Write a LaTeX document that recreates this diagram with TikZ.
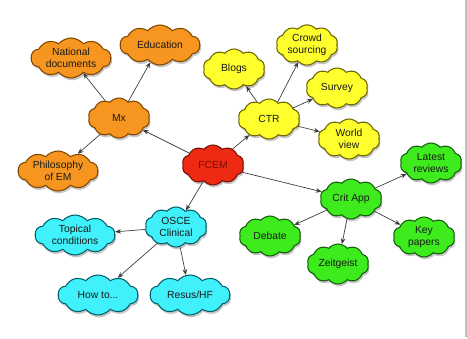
\documentclass[tikz,border=0pt]{standalone}
\usepackage{fontspec}
\setmainfont{Liberation Sans}
\usepackage{tikz}
\usetikzlibrary{shapes.symbols,shadows,arrows.meta}

\definecolor{mxfill}{RGB}{246,150,32}
\definecolor{mxline}{RGB}{130,70,0}
\definecolor{ctrfill}{RGB}{255,255,45}
\definecolor{ctrline}{RGB}{110,100,0}
\definecolor{emfill}{RGB}{238,42,20}
\definecolor{emline}{RGB}{120,15,5}
\definecolor{osfill}{RGB}{64,240,250}
\definecolor{osline}{RGB}{0,95,105}
\definecolor{cafill}{RGB}{62,236,30}
\definecolor{caline}{RGB}{20,95,10}

\begin{document}
\begin{tikzpicture}[x=0.03cm,y=-0.03cm,
  puff/.style={cloud,cloud puffs=10,cloud puff arc=100,cloud ignores aspect,
    draw,line width=.9pt,align=center,inner sep=1pt,
    font=\fontsize{8.8}{10}\selectfont,text=black!90,
    minimum width=2.4cm,minimum height=1.2cm,
    drop shadow={opacity=.45,shadow xshift=1pt,shadow yshift=-2pt}},
  small/.style={minimum width=1.85cm,minimum height=1.2cm},
  mx/.style={puff,fill=mxfill,draw=mxline},
  ctr/.style={puff,fill=ctrfill,draw=ctrline},
  em/.style={puff,fill=emfill,draw=emline,text=emline},
  osce/.style={puff,fill=osfill,draw=osline},
  crit/.style={puff,fill=cafill,draw=caline},
  link/.style={draw=black!75,line width=.6pt,-{Stealth[length=5pt,width=4pt]}}]
  \useasboundingbox (0,0) rectangle (467,339);
  \draw[black!25,line width=1pt] (466,0) -- (466,337);

  % centre
  \node[em,small] (fcem) at (213,165) {FCEM};

  % Mx branch
  \node[mx,small] (mxc) at (119,118) {Mx};
  \node[mx] (natdoc) at (71,58) {National\\documents};
  \node[mx] (educ) at (160,45) {Education};
  \node[mx] (philo) at (58,171) {Philosophy\\of EM};

  % CTR branch
  \node[ctr,small] (ctrc) at (269,119) {CTR};
  \node[ctr,small] (blogs) at (234,69) {Blogs};
  \node[ctr,small] (crowd) at (307,45) {Crowd\\sourcing};
  \node[ctr,small] (survey) at (337,88) {Survey};
  \node[ctr,small] (world) at (349,139) {World\\view};

  % Crit App branch
  \node[crit,small] (critc) at (351,199) {Crit App};
  \node[crit,small] (latest) at (431,163) {Latest\\reviews};
  \node[crit,small] (debate) at (270,236) {Debate};
  \node[crit,small] (zeit) at (338,264) {Zeitgeist};
  \node[crit,small] (keyp) at (424,237) {Key\\papers};

  % OSCE branch
  \node[osce,small] (osce) at (176,227) {OSCE\\Clinical};
  \node[osce] (topic) at (75,235) {Topical\\conditions};
  \node[osce] (howto) at (98,295) {How to...};
  \node[osce] (resus) at (190,295) {Resus/HF};

  \path[link] (fcem) edge (mxc) edge (ctrc) edge (critc) edge (osce);
  \path[link] (mxc) edge (natdoc) edge (educ) edge (philo);
  \path[link] (ctrc) edge (blogs) edge (crowd) edge (survey) edge (world);
  \path[link] (critc) edge (latest) edge (debate) edge (zeit) edge (keyp);
  \path[link] (osce) edge (topic) edge (howto) edge (resus);
\end{tikzpicture}
\end{document}
